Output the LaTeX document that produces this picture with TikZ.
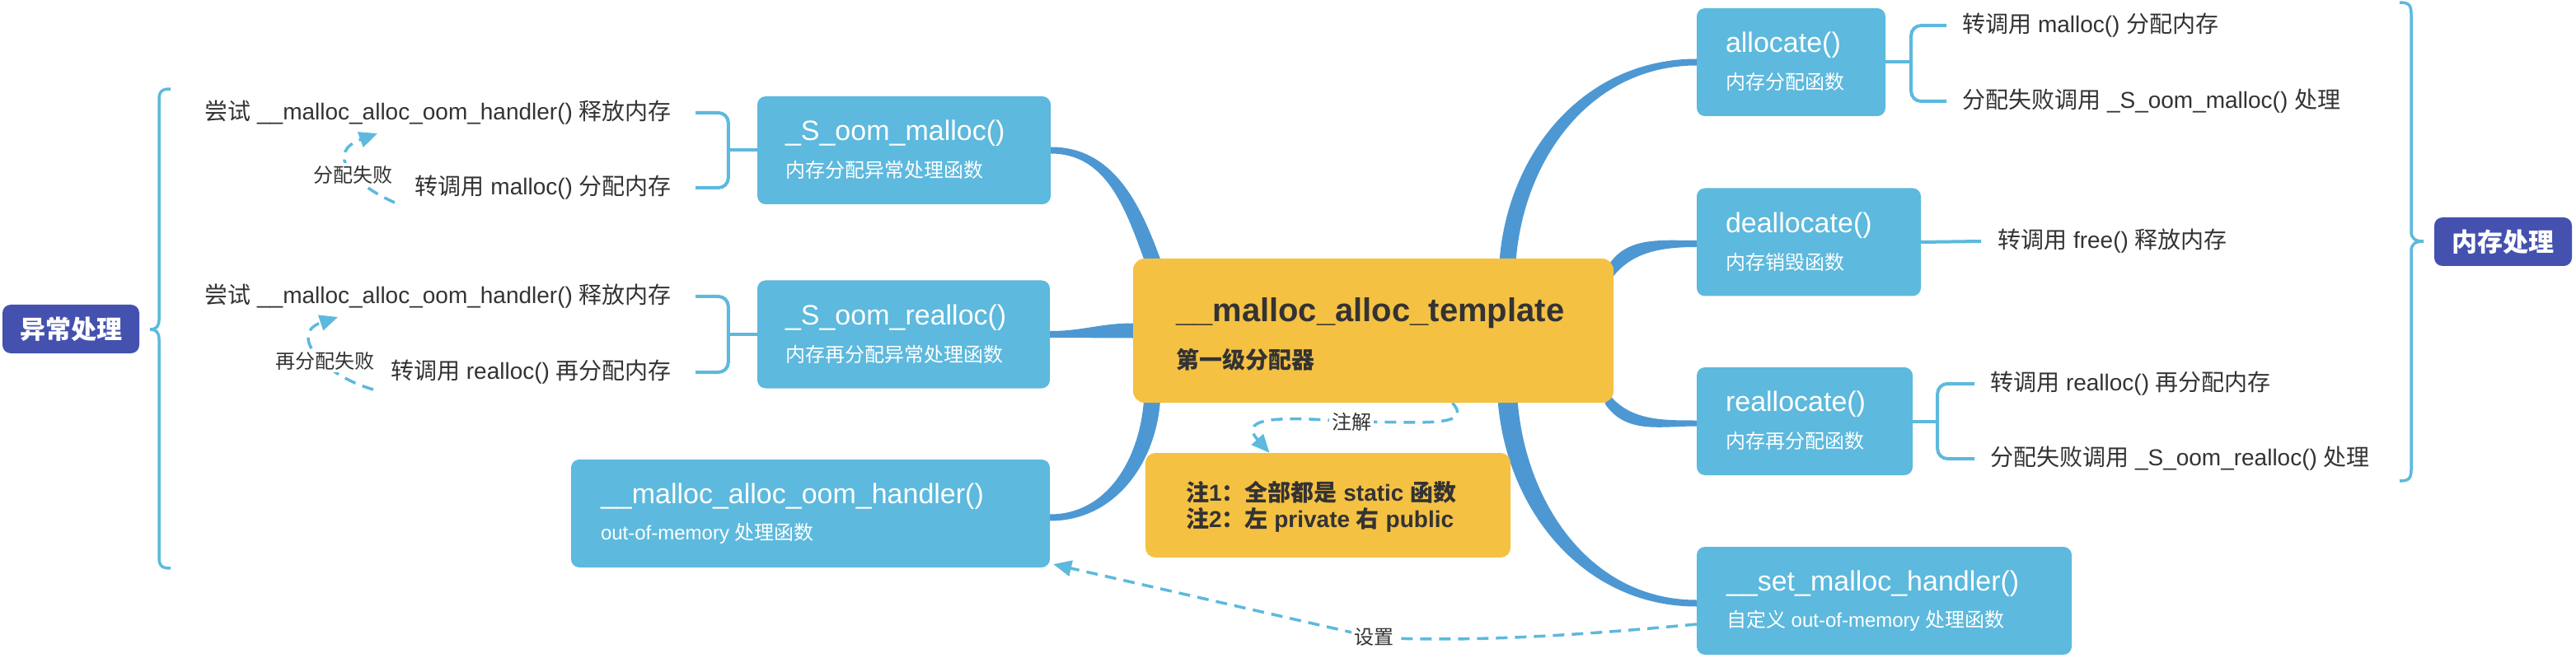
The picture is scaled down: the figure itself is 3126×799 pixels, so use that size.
\documentclass[tikz,border=0pt]{standalone}
\usepackage{fontspec}
\setmainfont{Liberation Sans}
\newfontfamily\zh{Noto Sans CJK SC}
\usetikzlibrary{arrows.meta,backgrounds}
\definecolor{boxblue}{HTML}{5DB9DD}
\definecolor{branchblue}{HTML}{4D98D3}
\definecolor{mainorange}{HTML}{F5C143}
\definecolor{headpurple}{HTML}{4451AE}
\definecolor{leafgray}{HTML}{333333}
\newcommand{\pxfont}[1]{\fontsize{#1}{#1}\selectfont}

\begin{document}
\begin{tikzpicture}[x=1pt,y=1pt,
    fnbox/.style={fill=boxblue,rounded corners=10pt,minimum height=131pt,inner sep=0pt},
    fntitle/.style={anchor=west,inner sep=0pt,text=white,font=\pxfont{34}},
    fnsub/.style={anchor=west,inner sep=0pt,text=white,font=\pxfont{24}},
    headbox/.style={fill=headpurple,rounded corners=10pt,minimum width=166pt,minimum height=59pt,inner sep=0pt,text=white,font=\zh\bfseries\pxfont{31}},
    leaftext/.style={inner sep=0pt,text=leafgray,font=\pxfont{28}},
    looptag/.style={inner sep=3pt,fill=white,text=leafgray,font=\zh\pxfont{24}},
    bracket/.style={draw=boxblue,line width=4pt,rounded corners=12pt},
    bigbrace/.style={draw=boxblue,line width=3.5pt},
    dasharrow/.style={draw=boxblue,line width=3.5pt,dash pattern=on 14pt off 9pt,-{Triangle[length=22pt,width=19pt]}},
    branchfill/.style={fill=branchblue}]
                \useasboundingbox (0,0) rectangle (3126,-799);
                \node[fill=mainorange,rounded corners=14pt,minimum width=583pt,minimum height=175pt] (main) at (1666.5,-401.5) {};
                \node[anchor=west,inner sep=0pt,text=leafgray,font=\bfseries\pxfont{40}] (mainT) at ([xshift=52pt,yshift=-66pt]main.north west) {\_\_malloc\_alloc\_template};
                \node[anchor=west,inner sep=0pt,text=leafgray,font=\zh\bfseries\pxfont{28}] (mainS) at ([xshift=52pt,yshift=-123pt]main.north west) {第一级分配器};
                \node[fill=mainorange,rounded corners=12pt,minimum width=443pt,minimum height=127pt] (note) at (1611.5,-613.5) {};
                \node[anchor=west,inner sep=0pt,text=leafgray,font=\bfseries\pxfont{28}] (note1) at ([xshift=49pt,yshift=-48pt]note.north west) {{\zh 注}1{\zh ：全部都是} static {\zh 函数}};
                \node[anchor=west,inner sep=0pt,text=leafgray,font=\bfseries\pxfont{28}] (note2) at ([xshift=49pt,yshift=-82pt]note.north west) {{\zh 注}2{\zh ：左} private {\zh 右} public};

                \node[fnbox,minimum width=356pt] (som) at (1097,-182.5) {};
                \node[fntitle] (somT) at ([xshift=34pt,yshift=-45pt]som.north west) {\_S\_oom\_malloc()};
                \node[fnsub] (somS) at ([xshift=34pt,yshift=-90pt]som.north west) {\zh 内存分配异常处理函数};
                \node[fnbox,minimum width=355pt] (sor) at (1096.5,-406) {};
                \node[fntitle] (sorT) at ([xshift=34pt,yshift=-45pt]sor.north west) {\_S\_oom\_realloc()};
                \node[fnsub] (sorS) at ([xshift=34pt,yshift=-90pt]sor.north west) {\zh 内存再分配异常处理函数};
                \node[fnbox,minimum width=581pt] (ooh) at (983.5,-623.5) {};
                \node[fntitle] (oohT) at ([xshift=36pt,yshift=-45pt]ooh.north west) {\_\_malloc\_alloc\_oom\_handler()};
                \node[fnsub] (oohS) at ([xshift=36pt,yshift=-90pt]ooh.north west) {out-of-memory {\zh 处理函数}};

                \node[fnbox,minimum width=229pt] (alloc) at (2173.5,-75.5) {};
                \node[fntitle] (allocT) at ([xshift=35pt,yshift=-45pt]alloc.north west) {allocate()};
                \node[fnsub] (allocS) at ([xshift=35pt,yshift=-90pt]alloc.north west) {\zh 内存分配函数};
                \node[fnbox,minimum width=272pt] (dealloc) at (2195,-294) {};
                \node[fntitle] (deallocT) at ([xshift=35pt,yshift=-45pt]dealloc.north west) {deallocate()};
                \node[fnsub] (deallocS) at ([xshift=35pt,yshift=-90pt]dealloc.north west) {\zh 内存销毁函数};
                \node[fnbox,minimum width=262pt] (realloc) at (2190,-511.5) {};
                \node[fntitle] (reallocT) at ([xshift=35pt,yshift=-45pt]realloc.north west) {reallocate()};
                \node[fnsub] (reallocS) at ([xshift=35pt,yshift=-90pt]realloc.north west) {\zh 内存再分配函数};
                \node[fnbox,minimum width=455pt] (setmh) at (2286.5,-729.5) {};
                \node[fntitle] (setmhT) at ([xshift=36pt,yshift=-45pt]setmh.north west) {\_\_set\_malloc\_handler()};
                \node[fnsub] (setmhS) at ([xshift=36pt,yshift=-90pt]setmh.north west) {{\zh 自定义} out-of-memory {\zh 处理函数}};

                \node[headbox] (exc) at (86,-399.5) {异常处理};
                \node[headbox,minimum width=167pt] (mem) at (3037.5,-293.5) {内存处理};

                \node[leaftext,anchor=east] (t1a) at (815,-137) {{\zh 尝试} \_\_malloc\_alloc\_oom\_handler() {\zh 释放内存}};
                \node[leaftext,anchor=east] (t1b) at (815,-228) {{\zh 转调用} malloc() {\zh 分配内存}};
                \node[leaftext,anchor=east] (t2a) at (815,-360) {{\zh 尝试} \_\_malloc\_alloc\_oom\_handler() {\zh 释放内存}};
                \node[leaftext,anchor=east] (t2b) at (815,-452) {{\zh 转调用} realloc() {\zh 再分配内存}};
                \node[leaftext,anchor=west] (a1) at (2381,-31) {{\zh 转调用} malloc() {\zh 分配内存}};
                \node[leaftext,anchor=west] (a2) at (2381,-123) {{\zh 分配失败调用} \_S\_oom\_malloc() {\zh 处理}};
                \node[leaftext,anchor=west] (d1) at (2424,-293) {{\zh 转调用} free() {\zh 释放内存}};
                \node[leaftext,anchor=west] (r1) at (2415,-466) {{\zh 转调用} realloc() {\zh 再分配内存}};
                \node[leaftext,anchor=west] (r2) at (2415,-557) {{\zh 分配失败调用} \_S\_oom\_realloc() {\zh 处理}};

                \node[looptag] (fail1) at (428,-212) {分配失败};
                \node[looptag] (fail2) at (394,-438) {再分配失败};
                \node[looptag] (remark) at (1640,-512) {注解};
                \node[looptag] (setlbl) at (1667,-774) {设置};
                \coordinate (fail1s) at (479,-246);
                \coordinate (fail1e) at (458,-162);
                \coordinate (fail2s) at (453,-473);
                \coordinate (fail2e) at (410,-385);

                \draw[bracket] ([xshift=29pt]t1a.east) -| ([xshift=-35pt]som.west) |- ([xshift=29pt]t1b.east);
                \draw[bracket] (som.west) -- ++(-35pt,0);
                \draw[bracket] ([xshift=29pt]t2a.east) -| ([xshift=-35pt]sor.west) |- ([xshift=29pt]t2b.east);
                \draw[bracket] (sor.west) -- ++(-35pt,0);
                \draw[bracket] ([xshift=-19pt]a1.west) -| ([xshift=31pt]alloc.east) |- ([xshift=-19pt]a2.west);
                \draw[bracket] (alloc.east) -- ++(31pt,0);
                \draw[bracket] (dealloc.east) -- ([xshift=-20pt]d1.west);
                \draw[bracket] ([xshift=-19pt]r1.west) -| ([xshift=30pt]realloc.east) |- ([xshift=-19pt]r2.west);
                \draw[bracket] (realloc.east) -- ++(30pt,0);

                \draw[bigbrace] (207,-108) .. controls (196,-108) and (193,-111) .. (193,-122) -- (193,-388) .. controls (193,-396) and (190,-400) .. (182,-400) .. controls (190,-400) and (193,-404) .. (193,-412) -- (193,-676) .. controls (193,-687) and (196,-690) .. (207,-690);
                \draw[bigbrace] (2912,-3) .. controls (2923,-3) and (2926,-6) .. (2926,-17) -- (2926,-281) .. controls (2926,-289) and (2930,-293) .. (2941,-293) .. controls (2930,-293) and (2926,-297) .. (2926,-305) -- (2926,-570) .. controls (2926,-581) and (2923,-584) .. (2912,-584);

                \begin{pgfonlayer}{background}
                \fill[branchfill] ([xshift=13pt]main.north west) to[out=110,in=0] ([yshift=-4pt]som.east) -- ([yshift=4pt]som.east) to[out=0,in=110] ([xshift=33pt]main.north west) -- cycle;
                \fill[branchfill] ([yshift=9pt]main.west) to[out=180,in=0] ([yshift=4pt]sor.east) -- ([yshift=-4pt]sor.east) to[out=0,in=180] ([yshift=-9pt]main.west) -- cycle;
                \fill[branchfill] ([xshift=13pt]main.south west) to[out=-95,in=0] ([yshift=-1pt]ooh.east) -- ([yshift=-9pt]ooh.east) to[out=0,in=-95] ([xshift=33pt]main.south west) -- cycle;
                \fill[branchfill] ([xshift=465pt]main.north west) to[out=85,in=180] ([yshift=-4pt]alloc.west) -- ([yshift=4pt]alloc.west) to[out=180,in=85] ([xshift=445pt]main.north west) -- cycle;
                \fill[branchfill] ([xshift=-8pt,yshift=-33pt]main.north east) to[out=60,in=180] ([yshift=-6pt]dealloc.west) -- ([yshift=2pt]dealloc.west) to[out=180,in=60] ([xshift=-8pt,yshift=-11pt]main.north east) -- cycle;
                \fill[branchfill] ([xshift=-10pt,yshift=16pt]main.south east) to[out=-55,in=180] ([yshift=1pt]realloc.west) -- ([yshift=-6pt]realloc.west) to[out=180,in=-55] ([xshift=-10pt,yshift=-2pt]main.south east) -- cycle;
                \fill[branchfill] ([xshift=467pt]main.south west) to[out=-85,in=180] ([yshift=1pt]setmh.west) -- ([yshift=-7pt]setmh.west) to[out=180,in=-85] ([xshift=443pt]main.south west) -- cycle;
                \draw[dasharrow] (fail1s) .. controls (425,-222) and (395,-185) .. (fail1e);
                \draw[dasharrow] (fail2s) .. controls (390,-455) and (350,-405) .. (fail2e);
                \draw[dasharrow] ([xshift=96pt]main.south) .. controls (1790,-520) and (1720,-512) .. (remark.center) .. controls (1560,-506) and (1500,-505) .. ([xshift=-71pt]note.north);
                \draw[dasharrow] ([yshift=-28.5pt]setmh.west) .. controls (1950,-768) and (1800,-781) .. (setlbl.center) -- ([xshift=4pt,yshift=4pt]ooh.south east);
                \end{pgfonlayer}
\end{tikzpicture}
\end{document}
